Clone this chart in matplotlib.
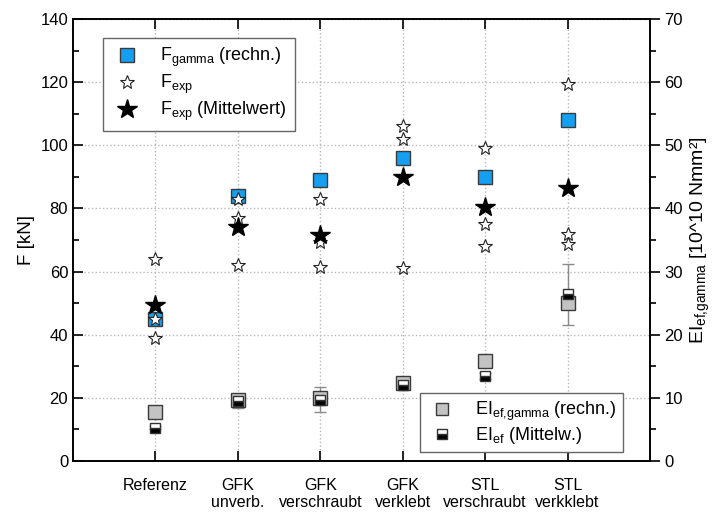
import numpy as np
import matplotlib
matplotlib.use('Agg')
import matplotlib.pyplot as plt
from matplotlib.lines import Line2D

plt.rcParams['font.family'] = ['Liberation Sans', 'DejaVu Sans']
plt.rcParams['mathtext.default'] = 'regular'

categories = ['Referenz', 'GFK\nunverb.', 'GFK\nverschraubt', 'GFK\nverklebt',
              'STL\nverschraubt', 'STL\nverkklebt']
f_gamma = [45, 84, 89, 96, 90, 108]
f_exp = [[64, 45, 39],
         [83, 77, 62],
         [83, 69.5, 61.5],
         [106, 102, 61],
         [99, 75, 68],
         [119.5, 72, 68.7]]
f_exp_mean = [49.5, 74, 71.5, 90, 80.5, 86.5]
ei_gamma = [7.7, 9.7, 10, 12.4, 15.8, 25]
ei_mean = [5.3, 9.5, 9.7, 12.1, 13.5, 26.4]
ei_err = [0.3, 1.1, 2.0, 0.4, 0.5, 4.8]

x = np.arange(1, len(categories) + 1)

fig = plt.figure(figsize=(7.23, 5.13), dpi=100)
ax = fig.add_axes([0.101, 0.1014, 0.798, 0.8616])
ax2 = ax.twinx()

blue = '#159ff0'
edge = '#3a3a3a'

ax.plot(x, f_gamma, 's', ms=10, mfc=blue, mec=edge, mew=1, zorder=3)
for xi, vals in zip(x, f_exp):
    ax.plot([xi] * len(vals), vals, '*', ms=10, mfc='white', mec='#222222',
            mew=0.8, zorder=4)
ax.plot(x, f_exp_mean, '*', ms=15, color='black', zorder=5)

ax2.errorbar(x, ei_mean, yerr=ei_err, fmt='none', ecolor='#8a8a8a',
             elinewidth=1, capsize=4, zorder=2)
ax2.plot(x, ei_gamma, 's', ms=10, mfc='#c3c3c3', mec=edge, mew=1, zorder=3)
ax2.plot(x, ei_mean, 's', ms=7, fillstyle='bottom', mfc='black',
         mfcalt='white', mec='#333333', mew=1, zorder=4)

ax.set_xlim(0, 7)
ax.set_ylim(0, 140)
ax2.set_ylim(0, 70)
ax.set_xticks(x)
ax.set_xticklabels(categories, fontsize=11.5)
ax.set_yticks(np.arange(0, 141, 20))
ax.set_yticks(np.arange(10, 140, 20), minor=True)
ax2.set_yticks(np.arange(0, 71, 10))
ax2.set_yticks(np.arange(5, 70, 10), minor=True)

ax.tick_params(axis='y', which='major', direction='in', length=7, width=1.2,
               labelsize=12)
ax.tick_params(axis='y', which='minor', direction='in', length=4, width=1.2)
ax.tick_params(axis='x', direction='in', length=7, width=1.2, top=True,
               pad=12)
ax2.tick_params(axis='y', which='major', direction='out', length=7, width=1.2,
                labelsize=12)
ax2.tick_params(axis='y', which='minor', direction='out', length=4, width=1.2)

for a in (ax, ax2):
    for s in a.spines.values():
        s.set_linewidth(1.2)

ax.grid(True, which='major', linestyle=':', color='#b8b8b8', linewidth=1)
ax.set_axisbelow(True)

ax.set_ylabel('F [kN]', fontsize=13.5)
ax2.set_ylabel('EI$_{ef{,}gamma}$ [10^10 Nmm²]', fontsize=14)

h1 = [Line2D([], [], ls='none', marker='s', ms=10, mfc=blue, mec=edge),
      Line2D([], [], ls='none', marker='*', ms=10, mfc='white', mec='#222222',
             mew=0.8),
      Line2D([], [], ls='none', marker='*', ms=15, color='black')]
l1 = ['F$_{gamma}$ (rechn.)', 'F$_{exp}$', 'F$_{exp}$ (Mittelwert)']
leg1 = ax2.legend(h1, l1, loc='upper left', bbox_to_anchor=(0.052, 0.957),
                  borderaxespad=0, fontsize=13, fancybox=False,
                  edgecolor='#666666', framealpha=1, borderpad=0.45,
                  labelspacing=0.2, handletextpad=0.9, handlelength=1.8)
ax2.add_artist(leg1)

h2 = [Line2D([], [], ls='none', marker='s', ms=9, mfc='#c3c3c3', mec=edge),
      Line2D([], [], ls='none', marker='s', ms=7, fillstyle='bottom',
             mfc='black', mfcalt='white', mec='#333333')]
l2 = ['EI$_{ef{,}gamma}$ (rechn.)', 'EI$_{ef}$ (Mittelw.)']
ax2.legend(h2, l2, loc='lower right', bbox_to_anchor=(0.953, 0.02),
           borderaxespad=0, fontsize=13, fancybox=False, edgecolor='#666666',
           framealpha=1, borderpad=0.35, labelspacing=0.1,
           handletextpad=0.9, handlelength=1.8)

fig.savefig('out.png', dpi=100)
